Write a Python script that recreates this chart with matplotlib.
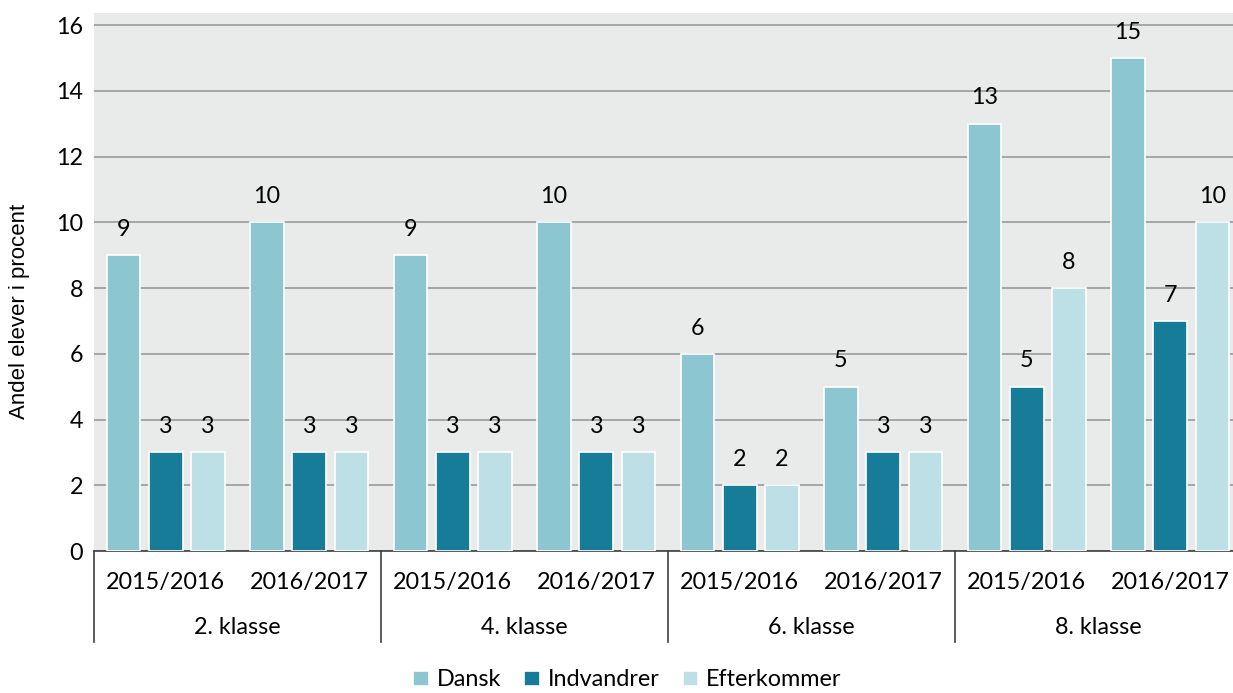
import matplotlib
matplotlib.use("Agg")
import matplotlib.pyplot as plt
import numpy as np

plt.rcParams['font.family'] = ['Lato', 'DejaVu Sans']

# data
klasser = ["2. klasse", "4. klasse", "6. klasse", "8. klasse"]
aar = ["2015/2016", "2016/2017"]
serier = ["Dansk", "Indvandrer", "Efterkommer"]
dansk = [9, 10, 9, 10, 6, 5, 13, 15]
indvandrer = [3, 3, 3, 3, 2, 3, 5, 7]
efterkommer = [3, 3, 3, 3, 2, 3, 8, 10]
farver = ["#8cc7d1", "#167c98", "#bddfe6"]

W, H = 1233, 693
fs = 16.8
fig = plt.figure(figsize=(W / 100, H / 100), dpi=100)
# the plot area runs slightly past the right edge of the picture
ax = fig.add_axes([94 / W, 1 - 551 / H, (1242 - 94) / W, (551 - 13) / H])
ax.set_facecolor("#e9ebea")
ah = 551 - 13  # axes height in px

x = np.arange(len(dansk))
bredde = 0.235
afstand = 0.295
for i, (vals, navn) in enumerate(zip([dansk, indvandrer, efterkommer], serier)):
    pos = x + (i - 1) * afstand
    bars = ax.bar(pos, vals, width=bredde, color=farver[i], edgecolor="white",
                  linewidth=1.2, label=navn, zorder=3)
    for b, v in zip(bars, vals):
        ax.annotate(str(v), (b.get_x() + b.get_width() / 2, v), xytext=(0, 11),
                    textcoords="offset points", ha="center", va="bottom", fontsize=fs)

ax.set_xlim(-0.5, len(dansk) - 0.5)
ax.set_ylim(0, 16.37)
ax.set_yticks(range(0, 17, 2))
ax.yaxis.grid(True, color="#9a9a9a", linewidth=1.2, zorder=0)
ax.tick_params(axis="y", length=0, labelsize=fs, pad=8)
ax.tick_params(axis="x", length=0)
ax.set_xticks([])
for s in ["left", "right", "top"]:
    ax.spines[s].set_visible(False)
ax.spines["bottom"].set_color("#404040")
ax.spines["bottom"].set_linewidth(1.2)
fig.text(20 / W, 1 - 311 / H, "Andel elever i procent", rotation=90, ha="center",
         va="center", fontsize=16, family="Liberation Sans")

# two-level category axis
xt = ax.get_xaxis_transform()
for i, a in enumerate(aar * len(klasser)):
    ax.text(i, -31 / ah, a, transform=xt, ha="center", va="center", fontsize=fs)
for k, navn in enumerate(klasser):
    ax.text(2 * k + 0.5, -77 / ah, navn, transform=xt, ha="center", va="center", fontsize=fs)
for k in range(len(klasser) + 1):
    ax.plot([2 * k - 0.5, 2 * k - 0.5], [0, -91 / ah], transform=xt,
            color="#404040", linewidth=1.2, clip_on=False)

fig.legend(loc="center", bbox_to_anchor=(0.5 + 11 / W, 1 - 680 / H), ncol=3, frameon=False,
           fontsize=fs, handlelength=0.65, handleheight=0.65, handletextpad=0.35,
           columnspacing=1.0)

fig.savefig("out.png", dpi=100)
